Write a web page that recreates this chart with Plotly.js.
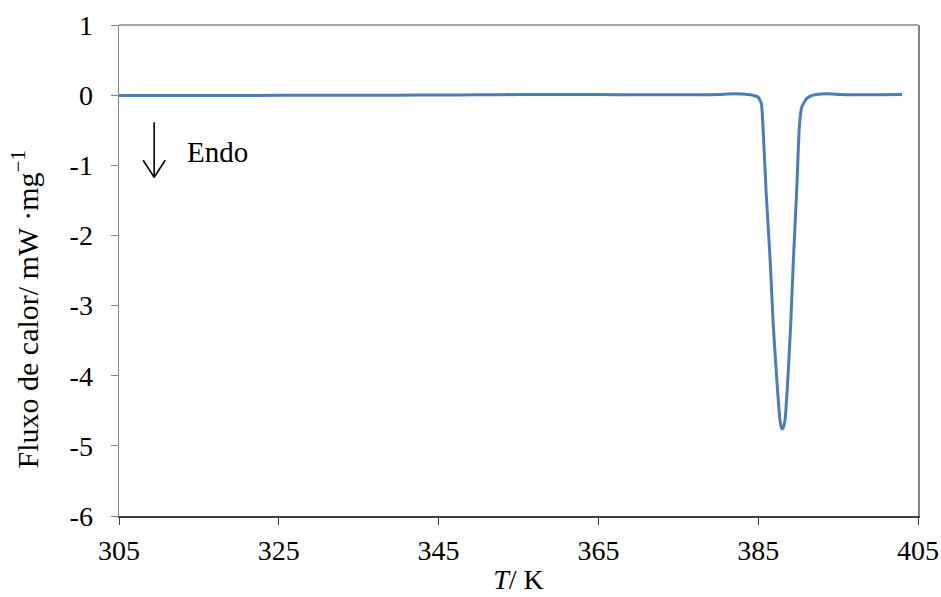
<!DOCTYPE html>
<html>
<head>
<meta charset="utf-8">
<script src="https://cdn.plot.ly/plotly-3.0.1.min.js"></script>
<style>html,body{margin:0;padding:0;background:#fff;}#chart{width:941px;height:597px;}</style>
</head>
<body>
<div id="chart"></div>
<script>
// Temperature / K
const temperature = [305, 310, 315, 320, 325, 330, 335, 340, 345, 350, 355, 360, 365, 370, 375, 378, 380, 382, 383, 384, 385, 385.4, 385.6, 386.0, 386.5, 386.9, 387.4, 387.73, 387.88, 388.02, 388.17, 388.35, 388.65, 389.05, 389.4, 389.8, 390.15, 390.45, 391.05, 391.6, 392.3, 393.6, 395.2, 397, 400, 403];
// Heat flow / mW·mg^-1
const heatFlow = [-0.005, -0.005, -0.004, -0.004, -0.003, -0.002, -0.001, 0.0, 0.002, 0.005, 0.008, 0.008, 0.008, 0.006, 0.004, 0.005, 0.01, 0.02, 0.015, 0.005, -0.03, -0.12, -0.45, -1.40, -2.36, -3.31, -4.17, -4.64, -4.73, -4.76, -4.73, -4.64, -4.17, -3.31, -2.36, -1.40, -0.45, -0.17, -0.05, -0.01, 0.01, 0.02, 0.01, 0.005, 0.005, 0.01];
const xTickVals = [305, 325, 345, 365, 385, 405];
const xTickText = ["305", "325", "345", "365", "385", "405"];
const yTickVals = [-6, -5, -4, -3, -2, -1, 0, 1];
const yTickText = ["-6", "-5", "-4", "-3", "-2", "-1", "0", "1"];
const yTitle = 'Fluxo de calor/ mW ·mg<sup>−1</sup>';
const xTitle = '<i>T</i>/ K';
// "Endo" arrow marker position (data units)
const arrowX = 309.4, arrowHeadY = -1.17;

const font = "Liberation Serif";
const trace = {
  x: temperature, y: heatFlow, type: 'scatter', mode: 'lines',
  line: {color: '#4a7ebb', width: 3, shape: 'spline', smoothing: 0.4},
  hoverinfo: 'skip'
};
const arrowLine = {type: 'line', xref: 'x', yref: 'y', xsizemode: 'pixel', ysizemode: 'pixel',
  xanchor: arrowX, yanchor: arrowHeadY, line: {color: '#000', width: 1.6}};
const layout = {
  width: 941, height: 597,
  margin: {l: 119, r: 23, t: 25, b: 81},
  paper_bgcolor: '#fff', plot_bgcolor: '#fff',
  showlegend: false,
  font: {family: font, size: 28, color: '#000'},
  xaxis: {
    range: [305, 405], tickvals: xTickVals, ticktext: xTickText,
    showgrid: false, zeroline: false,
    showline: true, linecolor: '#404040', linewidth: 1.5,
    ticks: 'outside', ticklen: 7, tickcolor: '#404040', tickwidth: 1,
    ticklabelstandoff: 2,
    tickfont: {family: font, size: 28},
    title: {text: xTitle, font: {family: font, size: 28}, standoff: 4}
  },
  yaxis: {
    range: [-6, 1], tickvals: yTickVals, ticktext: yTickText,
    showgrid: false, zeroline: false,
    showline: true, linecolor: '#868686', linewidth: 1.5, mirror: true,
    ticks: 'outside', ticklen: 7, tickcolor: '#868686', tickwidth: 1,
    ticklabelstandoff: 12,
    tickfont: {family: font, size: 28}
  },
  shapes: [
    {type: 'line', xref: 'paper', yref: 'paper', x0: 0, x1: 1, y0: 1, y1: 1, line: {color: '#868686', width: 1.5}},
    Object.assign({}, arrowLine, {x0: 0, x1: 0, y0: 0, y1: 55}),
    Object.assign({}, arrowLine, {x0: 0, x1: -11, y0: 0, y1: 17}),
    Object.assign({}, arrowLine, {x0: 0, x1: 11, y0: 0, y1: 17})
  ],
  annotations: [
    {x: -0.118, y: 0.42, xref: 'paper', yref: 'paper', text: yTitle, textangle: -90, showarrow: false,
     xanchor: 'center', yanchor: 'middle', font: {family: font, size: 30, color: '#000'}},
    {x: 313.2, y: -0.81, xref: 'x', yref: 'y', text: 'Endo', showarrow: false, xanchor: 'left',
     font: {family: font, size: 29, color: '#000'}}
  ]
};
Plotly.newPlot('chart', [trace], layout, {displayModeBar: false, staticPlot: true});
</script>
</body>
</html>
